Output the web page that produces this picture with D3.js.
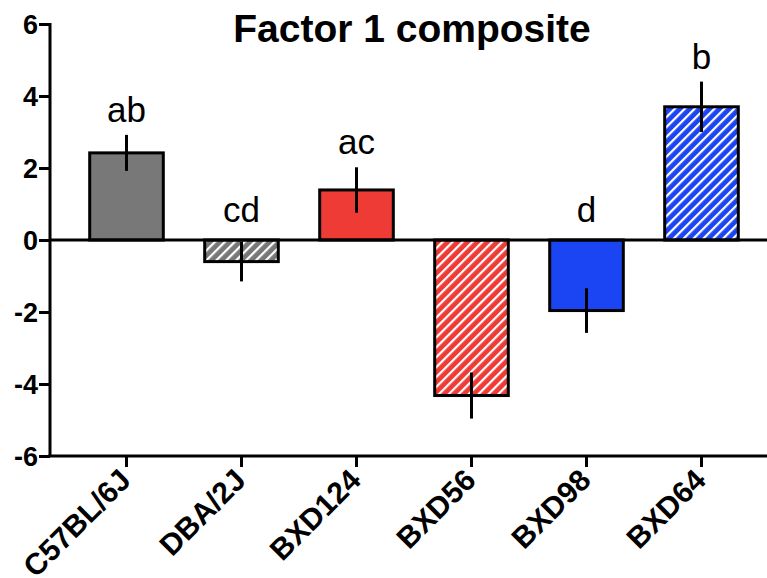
<!DOCTYPE html>
<html>
<head>
<meta charset="utf-8">
<script src="https://cdn.jsdelivr.net/npm/d3@7"></script>
<style>
  body { margin: 0; background: #fff; }
  text { font-family: "Liberation Sans", Arial, sans-serif; }
</style>
</head>
<body>
<div id="chart"></div>
<script>
// data
const strains = ["C57BL/6J", "DBA/2J", "BXD124", "BXD56", "BXD98", "BXD64"];
const means = [2.42, -0.6, 1.39, -4.32, -1.96, 3.7];
const sems = [0.5, 0.55, 0.63, 0.64, 0.62, 0.7];
const letters = ["ab", "cd", "ac", "", "d", "b"];
const fills = ["#787878", "#787878", "#ef3b36", "#ef3b36", "#1b45f2", "#1b45f2"];
const hatched = [false, true, false, true, false, true];
const yTicks = [-6, -4, -2, 0, 2, 4, 6];

const W = 767, H = 578;
const svg = d3.select("#chart").append("svg")
  .attr("width", W).attr("height", H);

// hatch patterns
const defs = svg.append("defs");
fills.forEach((c, i) => {
  if (!hatched[i]) return;
  const p = defs.append("pattern")
    .attr("id", "hatch" + i)
    .attr("patternUnits", "userSpaceOnUse")
    .attr("width", 7).attr("height", 7)
    .attr("patternTransform", "rotate(45)");
  p.append("rect").attr("width", 7).attr("height", 7).attr("fill", c);
  p.append("rect").attr("x", 0).attr("width", 2.2).attr("height", 7).attr("fill", "#fff");
});

const x = d3.scaleBand().domain(strains).range([69, 759])
  .paddingInner(0.36).paddingOuter(0.18);
const y = d3.scaleLinear().domain([-6, 6]).range([456, 24]);

// title
svg.append("text")
  .attr("x", 412).attr("y", 42)
  .attr("text-anchor", "middle")
  .style("font-size", "39px").style("font-weight", "bold")
  .text("Factor 1 composite");

// bars
svg.selectAll(".bar").data(means).enter().append("rect")
  .attr("class", "bar")
  .attr("x", (d, i) => x(strains[i]))
  .attr("width", x.bandwidth())
  .attr("y", d => y(Math.max(0, d)))
  .attr("height", d => Math.abs(y(d) - y(0)))
  .attr("fill", (d, i) => hatched[i] ? `url(#hatch${i})` : fills[i])
  .attr("stroke", "#000").attr("stroke-width", 3);

// error bars
svg.selectAll(".err").data(means).enter().append("line")
  .attr("class", "err")
  .attr("x1", (d, i) => x(strains[i]) + x.bandwidth() / 2)
  .attr("x2", (d, i) => x(strains[i]) + x.bandwidth() / 2)
  .attr("y1", (d, i) => y(d - sems[i]))
  .attr("y2", (d, i) => y(d + sems[i]))
  .attr("stroke", "#000").attr("stroke-width", 3);

// letters above
svg.selectAll(".lab").data(means).enter().append("text")
  .attr("class", "lab")
  .attr("x", (d, i) => x(strains[i]) + x.bandwidth() / 2)
  .attr("y", (d, i) => d > 0 ? y(d + sems[i]) - 13 : y(0) - 18)
  .attr("text-anchor", "middle")
  .style("font-size", "35px")
  .text((d, i) => letters[i]);

// zero line
svg.append("line")
  .attr("x1", 50).attr("x2", W)
  .attr("y1", y(0)).attr("y2", y(0))
  .attr("stroke", "#000").attr("stroke-width", 3);

// y axis
const yAxis = svg.append("g")
  .attr("transform", "translate(50,0)")
  .call(d3.axisLeft(y).tickValues(yTicks).tickSize(11).tickPadding(1).tickFormat(d3.format("d")));
yAxis.select(".domain").attr("stroke-width", 3).attr("d", `M0,${y(6) - 1}V${y(-6)}`);
yAxis.selectAll(".tick line").attr("stroke-width", 3);
yAxis.selectAll(".tick text")
  .style("font-size", "27px").style("font-weight", "bold")
  .attr("dy", "0.36em")
  .text(d => d < 0 ? "-" + Math.abs(d) : d);

// x axis
const xAxis = svg.append("g")
  .attr("transform", `translate(0,${y(-6)})`)
  .call(d3.axisBottom(x).tickSize(11).tickSizeOuter(0));
xAxis.select(".domain").attr("stroke-width", 3).attr("d", `M48.5,0H${W}`);
xAxis.selectAll(".tick line").attr("stroke-width", 3);
xAxis.selectAll(".tick text")
  .style("font-size", "30px").style("font-weight", "bold")
  .attr("text-anchor", "end")
  .attr("dy", 0)
  .attr("transform", "translate(6,26) rotate(-45)")
  .attr("x", 0).attr("y", 0);
</script>
</body>
</html>
